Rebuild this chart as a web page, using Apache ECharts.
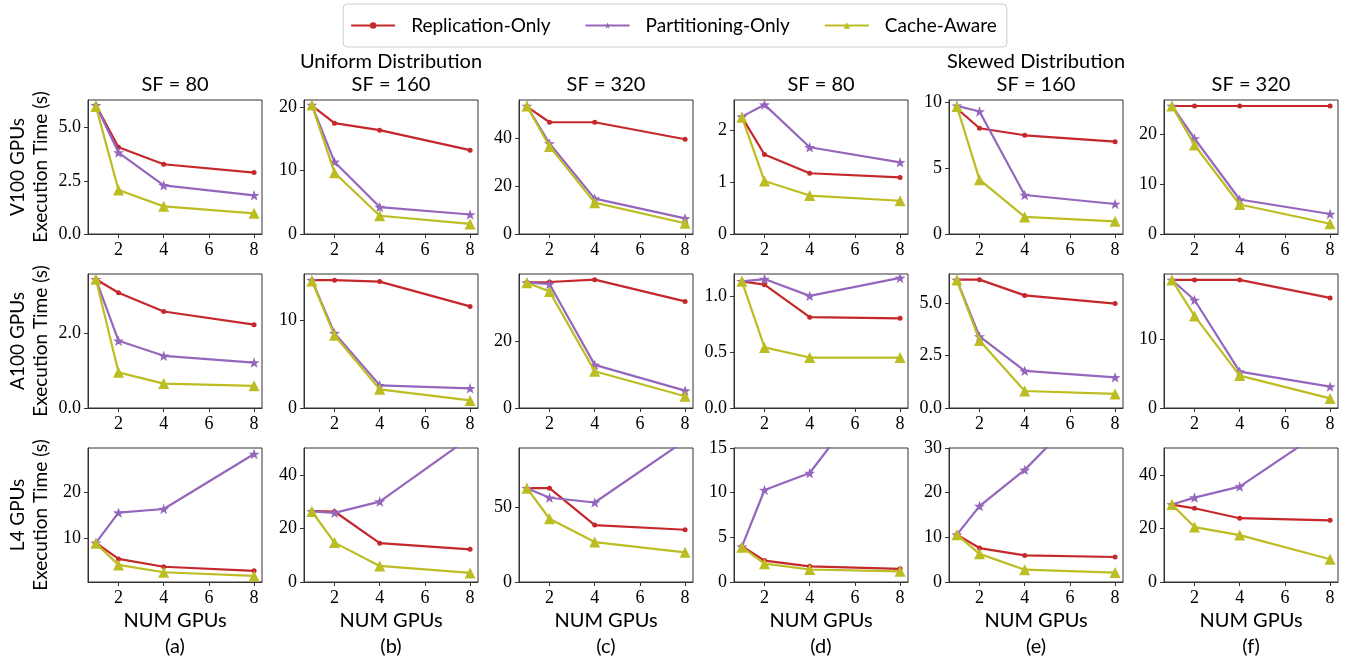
<!DOCTYPE html>
<html>
<head>
<meta charset="utf-8">
<script src="https://cdn.jsdelivr.net/npm/echarts@6/dist/echarts.min.js"></script>
<style>
  html, body { margin: 0; padding: 0; background: #fff; }
  #main { width: 1347px; height: 662px; }
</style>
</head>
<body>
<div id="main"></div>
<script>
// x values: number of GPUs
var gpus = [1, 2, 4, 8];
var panels = ['(a)', '(b)', '(c)', '(d)', '(e)', '(f)'];
var gpuTypes = ['V100', 'A100', 'L4'];
var colTitles = ['SF = 80', 'Uniform Distribution\nSF = 160', 'SF = 320',
                 'SF = 80', 'Skewed Distribution\nSF = 160', 'SF = 320'];

// execution time (s), one list per column (a)..(f)
var replV100 = [[6.05, 4.08, 3.28, 2.89], [20.2, 17.45, 16.35, 13.2], [53.2, 46.7, 46.7, 39.6],
                [2.25, 1.53, 1.17, 1.09], [9.5, 8.0, 7.47, 6.99], [25.6, 25.6, 25.6, 25.6]];
var partV100 = [[6.05, 3.83, 2.29, 1.82], [20.3, 11.35, 4.24, 3.07], [53.5, 37.8, 14.8, 6.5],
                [2.26, 2.49, 1.67, 1.38], [9.7, 9.27, 2.95, 2.27], [25.6, 19.1, 6.9, 4.0]];
var cacheV100 = [[6.0, 2.07, 1.30, 0.97], [20.3, 9.65, 2.87, 1.59], [53.5, 36.6, 13.1, 4.5],
                 [2.25, 1.02, 0.74, 0.64], [9.65, 4.11, 1.29, 0.96], [25.6, 17.8, 5.9, 2.05]];

var replA100 = [[3.43, 3.07, 2.57, 2.22], [14.6, 14.6, 14.43, 11.6], [37.6, 37.7, 38.4, 31.9],
                [1.13, 1.10, 0.81, 0.80], [6.12, 6.12, 5.37, 4.98], [18.5, 18.5, 18.5, 15.9]];
var partA100 = [[3.43, 1.79, 1.39, 1.21], [14.6, 8.55, 2.59, 2.25], [37.5, 37.1, 12.9, 5.2],
                [1.13, 1.15, 1.00, 1.16], [6.1, 3.41, 1.77, 1.46], [18.5, 15.6, 5.26, 3.09]];
var cacheA100 = [[3.43, 0.95, 0.65, 0.59], [14.5, 8.3, 2.13, 0.87], [37.5, 34.9, 11.0, 3.5],
                 [1.13, 0.54, 0.45, 0.45], [6.1, 3.22, 0.81, 0.67], [18.5, 13.3, 4.68, 1.39]];

var replL4 = [[8.9, 5.4, 3.7, 2.8], [26.5, 26.3, 14.5, 12.2], [63, 63, 38.2, 35.1],
              [4.0, 2.4, 1.75, 1.48], [10.6, 7.6, 5.95, 5.6], [28.9, 27.5, 23.8, 23.0]];
var partL4 = [[8.9, 15.5, 16.3, 28.3], [26.3, 25.8, 30, 54], [63, 56.6, 53.4, 95],
              [3.95, 10.3, 12.2, 25.5], [10.6, 17.0, 25.1, 45.7], [28.9, 31.5, 35.6, 58.3]];
var cacheL4 = [[8.8, 4.1, 2.5, 1.7], [26.3, 14.7, 6.0, 3.4], [63, 42.5, 26.8, 19.9],
               [3.9, 2.05, 1.4, 1.2], [10.6, 6.3, 2.75, 2.1], [28.9, 20.5, 17.5, 8.5]];

// y axis ranges and tick labels
var yMinV100 = [0, 0, 0, 0, 0, 0];
var yMaxV100 = [6.3, 21.1, 56, 2.58, 10.14, 26.8];
var yTicksV100 = [[0, 2.5, 5], [0, 10, 20], [0, 20, 40], [0, 1, 2], [0, 5, 10], [0, 10, 20]];
var yMinA100 = [0, 0, 0, 0, 0, 0];
var yMaxA100 = [3.57, 15.3, 40.1, 1.195, 6.39, 19.36];
var yTicksA100 = [[0, 2], [0, 10], [0, 20], [0, 0.5, 1], [0, 2.5, 5], [0, 10]];
var yMinL4 = [0.37, 0, 0, 0, 0, 0];
var yMaxL4 = [29.6, 50, 90, 15, 30, 50];
var yTicksL4 = [[10, 20], [0, 20, 40], [0, 50], [0, 5, 10, 15], [0, 10, 20, 30], [0, 20, 40]];
var yDecimals = [[1, 0, 0, 0, 0, 0], [1, 0, 0, 1, 1, 0], [0, 0, 0, 0, 0, 0]];
var xTicks = [2, 4, 6, 8];

var methods = ['Replication-Only', 'Partitioning-Only', 'Cache-Aware'];
var colors = ['#c4282b', '#9467bd', '#bcbd22'];
var starPath = 'path://M0,-10L2.35,-3.24L9.51,-3.09L3.8,1.24L5.88,8.09L0,4L-5.88,8.09L-3.8,1.24L-9.51,-3.09L-2.35,-3.24Z';
var symbols = ['circle', starPath, 'triangle'];
var symbolSizes = [5, 11, 11];

var rowData = [[replV100, partV100, cacheV100], [replA100, partA100, cacheA100], [replL4, partL4, cacheL4]];
var rowMin = [yMinV100, yMinA100, yMinL4];
var rowMax = [yMaxV100, yMaxA100, yMaxL4];
var rowTicks = [yTicksV100, yTicksA100, yTicksL4];

var lefts = [88, 304, 519, 734, 949, 1164];
var tops = [100, 274, 448];
var sans = 'Lato';
var serif = 'Liberation Serif';

var grids = [], xAxes = [], yAxes = [], series = [], titles = [];

for (var r = 0; r < 3; r++) {
    for (var c = 0; c < 6; c++) {
        var idx = r * 6 + c;
        grids.push({
            left: lefts[c], top: tops[r], width: 174, height: 134,
            show: true, borderColor: '#333', borderWidth: 1
        });
        xAxes.push({
            type: 'value', gridIndex: idx, min: 0.65, max: 8.35,
            splitLine: { show: false },
            axisLine: { show: true, onZero: false, lineStyle: { color: '#333' } },
            axisTick: { show: true, length: 4, customValues: xTicks, lineStyle: { color: '#333' } },
            axisLabel: { customValues: xTicks, margin: 7, color: '#000', fontFamily: serif, fontSize: 18 },
            name: r === 2 ? 'NUM GPUs\n' + panels[c] : '',
            nameLocation: 'middle', nameGap: 26,
            nameTextStyle: { fontFamily: sans, fontSize: 20, lineHeight: 26, color: '#000' }
        });
        (function (dec) {
            yAxes.push({
                type: 'value', gridIndex: idx, min: rowMin[r][c], max: rowMax[r][c],
                splitLine: { show: false },
                axisLine: { show: true, onZero: false, lineStyle: { color: '#333' } },
                axisTick: { show: true, length: 4, customValues: rowTicks[r][c], lineStyle: { color: '#333' } },
                axisLabel: {
                    customValues: rowTicks[r][c], margin: 7, color: '#000', fontFamily: serif, fontSize: 18,
                    formatter: function (v) { return Number(v).toFixed(dec); }
                },
                name: c === 0 ? gpuTypes[r] + ' GPUs\nExecution Time (s)' : '',
                nameLocation: 'middle', nameRotate: 90, nameGap: 36,
                nameTextStyle: { fontFamily: sans, fontSize: 19, lineHeight: 23, color: '#000' }
            });
        })(yDecimals[r][c]);
        for (var m = 0; m < 3; m++) {
            var vals = rowData[r][m][c];
            series.push({
                name: methods[m], type: 'line',
                xAxisIndex: idx, yAxisIndex: idx,
                data: gpus.map(function (g, i) { return [g, vals[i]]; }),
                symbol: symbols[m], symbolSize: symbolSizes[m], symbolKeepAspect: true,
                showAllSymbol: true, clip: true, z: 2 + m,
                lineStyle: { width: 2.2, color: colors[m] },
                itemStyle: { color: colors[m] }
            });
        }
    }
}

for (var c = 0; c < 6; c++) {
    var twoLine = colTitles[c].indexOf('\n') >= 0;
    titles.push({
        text: colTitles[c],
        left: lefts[c] + 87, textAlign: 'center',
        top: twoLine ? 50 : 73,
        padding: 0,
        textStyle: { fontFamily: sans, fontSize: 20, fontWeight: 'normal', lineHeight: 23, color: '#000' }
    });
}

var myChart = echarts.init(document.getElementById('main'));
myChart.setOption({
    animation: false,
    backgroundColor: '#fff',
    title: titles,
    legend: {
        data: methods,
        left: 'center', top: 4,
        padding: [12, 10, 12, 7],
        itemWidth: 44, itemHeight: 8, itemGap: 34,
        borderColor: '#ccc', borderWidth: 1, borderRadius: 4,
        textStyle: { fontFamily: sans, fontSize: 19, color: '#000', padding: [0, 0, 0, 11] }
    },
    grid: grids,
    xAxis: xAxes,
    yAxis: yAxes,
    series: series
});
</script>
</body>
</html>
